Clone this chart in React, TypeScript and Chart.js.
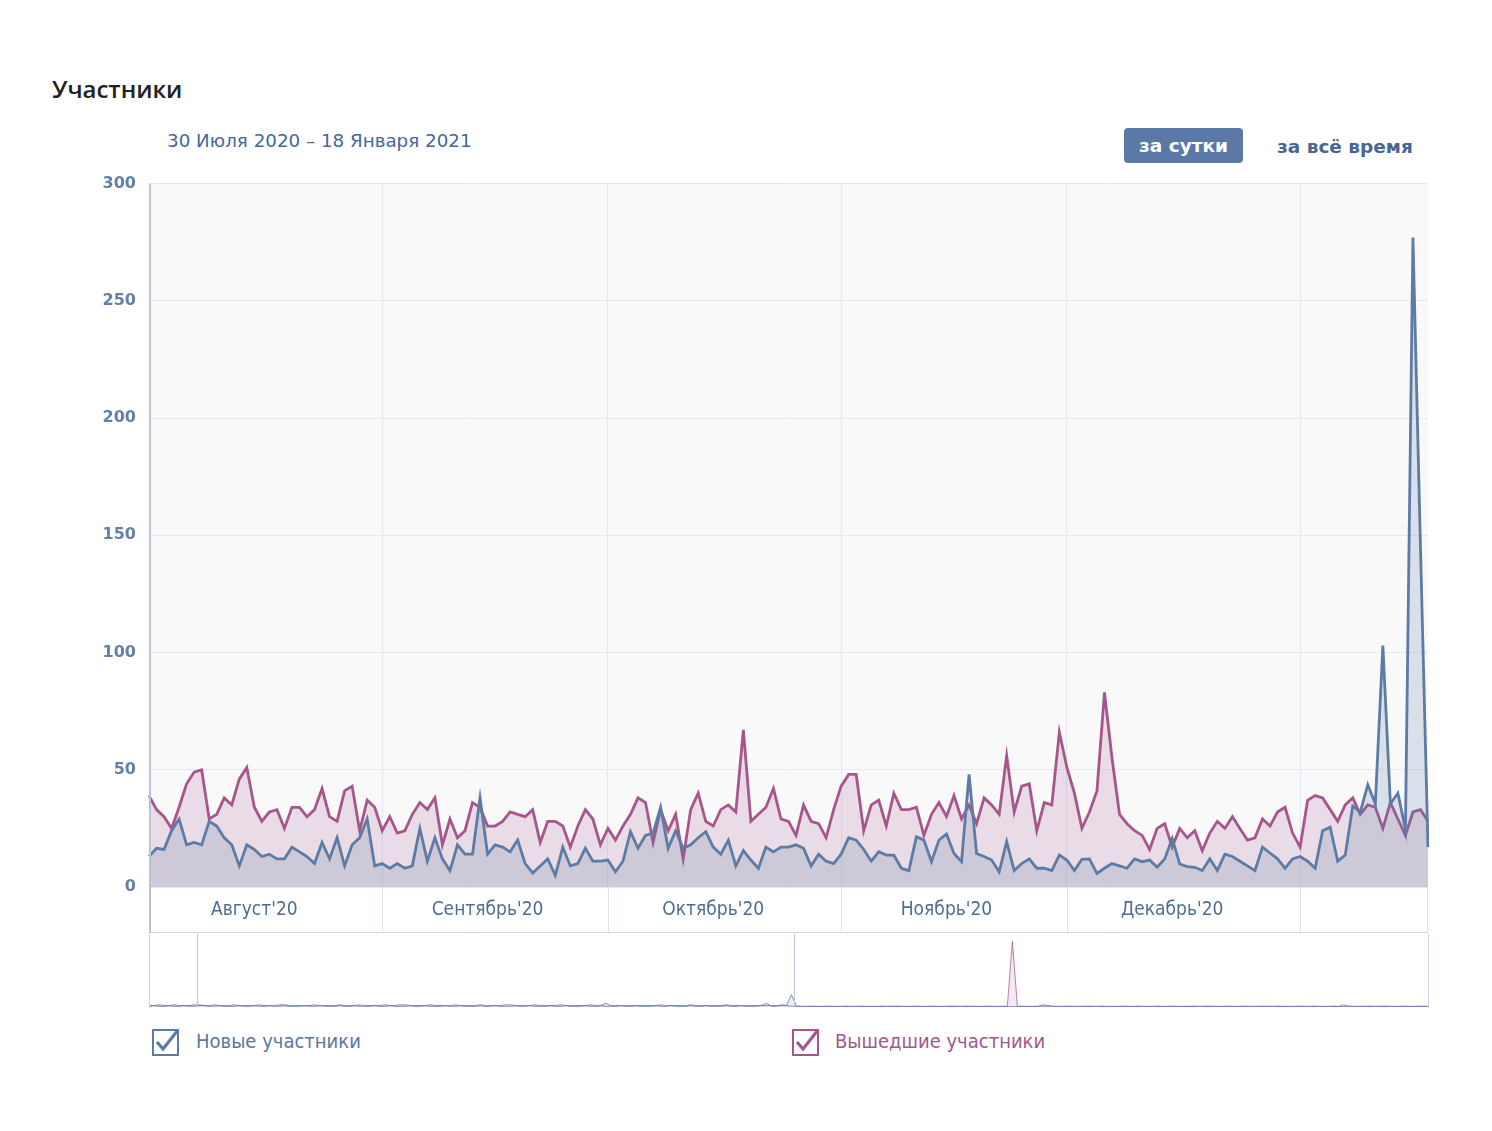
import React, { useEffect, useRef } from "react";
import { Chart, registerables } from "chart.js";

Chart.register(...registerables);

// ---- Data (daily, 1 Aug 2020 – 18 Jan 2021) ----
const newMembers: number[] = [
  13, 16.5, 16, 24, 29, 18, 19, 18, 28, 26, 21, 18, 9, 18, 16, 13, 14, 12, 12, 17, 15, 13, 10, 19, 12,
  21, 9, 18, 21, 29, 9, 10, 8, 10, 8, 9, 25, 11, 21, 12, 7, 18, 14, 14, 38, 14, 18, 17, 15, 20,
  10, 6, 9, 12, 5, 17, 9, 10, 16.5, 11, 11, 11.5, 6.5, 11, 23.6, 16.5, 22, 23, 34, 16.5, 24, 16.5, 18, 21,
  23.6, 17, 14, 20, 9, 15.5, 11.5, 8, 17, 15, 17, 17, 18, 16.5, 9, 14, 11, 10, 14, 21, 20, 16, 11, 15, 13.6,
  13.6, 8, 7, 21.4, 20, 10.8, 20, 22.6, 14.3, 10.8, 48, 14.3, 13, 11.5, 6.5, 19.3, 7, 10, 12, 8, 8, 7, 13.6, 11.5,
  7, 11.8, 12, 5.8, 8, 10, 9, 8, 12, 10.8, 11.5, 8.4, 12, 20.7, 9.8, 8.7, 8.4, 7, 12, 7, 14, 13, 11, 9, 7,
  17, 14.5, 12, 8, 12, 13, 11, 8, 24, 25.5, 11, 13.6, 34.5, 32, 43.6, 35.5, 103, 35.5, 40, 24.5, 277, 145, 17,
];

const leftMembers: number[] = [
  39, 33, 30, 25, 34, 44, 49, 50, 29, 31, 38, 35, 46, 51, 34, 28, 32, 33, 25, 34, 34, 30, 33, 42, 30,
  28, 41, 43, 24, 37, 34, 24, 30, 23, 24, 31, 36, 33, 38, 18, 29, 21, 24, 36, 34, 26, 26, 28, 32, 31,
  30, 33, 19, 28, 28, 26, 17, 26, 33, 29, 18, 25, 20, 26, 31, 38, 36, 19, 33, 24, 31, 12, 33, 40,
  28, 26, 33, 35, 32, 67, 28, 31, 34, 42, 29, 28, 22, 35, 28, 27, 21, 33, 43, 48, 48, 24, 35, 37, 26,
  40, 33, 33, 34, 22, 31, 36, 30, 39, 29, 35, 27, 38, 35, 31, 56, 32, 43, 44, 24, 36, 35, 66, 51,
  40, 25, 32, 41, 83, 55, 31, 27, 24, 22, 16, 25, 27, 17, 25, 21, 24, 15.5, 23, 28, 25, 30, 25, 20, 21,
  29, 26, 32, 34, 23, 17, 37, 39, 38, 33, 28, 35, 38, 31, 35, 34, 25, 36, 29, 22, 32, 33, 28,
];

const startDayUTC = Date.UTC(2020, 7, 1);
const days: Date[] = newMembers.map((_, i) => new Date(startDayUTC + i * 86400000));
const dayLabels: string[] = days.map(
  (d) => `${d.getUTCDate()}.${d.getUTCMonth() + 1}.${d.getUTCFullYear()}`
);

const monthLabels: string[] = ["Август'20", "Сентябрь'20", "Октябрь'20", "Ноябрь'20", "Декабрь'20"];
const yTicks: number[] = [0, 50, 100, 150, 200, 250, 300];

// navigator (overview of full history)
const navNew: number[] = [
  1, 2, 1, 1, 2, 1, 1, 2, 1, 1, 2, 2, 1, 1, 2, 1, 1, 1, 2, 1, 1, 2, 1, 1, 2, 1, 1, 2, 1, 1, 1, 2,
  1, 1, 2, 1, 1, 1, 2, 1, 1, 2, 1, 1, 1, 2, 1, 1, 2, 1, 1, 1, 2, 1, 1, 2, 1, 1, 1, 2, 1, 1, 2, 1,
  1, 1, 2, 1, 1, 2, 1, 1, 1, 2, 1, 1, 2, 1, 1, 1, 2, 1, 1, 2, 1, 1, 1, 2, 1, 1, 2, 1, 1, 1, 2, 1,
  1, 2, 1, 1, 1, 2, 1, 1, 2, 1, 1, 1, 2, 1, 1, 2, 1, 1, 1, 2, 1, 1, 2, 1, 1, 1, 2, 5, 1, 1, 3, 2,
  17, 1, 0.5, 0.5, 1, 0.5, 0.5, 1, 0.5, 0.5, 0.5, 1, 0.5, 0.5, 1, 0.5, 0.5, 0.5, 1, 0.5, 0.5, 1, 0.5, 0.5, 0.5, 1, 0.5, 0.5, 1, 0.5, 0.5, 0.5,
  1, 0.5, 0.5, 1, 0.5, 0.5, 0.5, 1, 0.5, 0.5, 1, 0.5, 0.5, 0.5, 1, 0.5, 0.5, 0.5, 3, 2, 1, 0.5, 0.5, 1, 0.5, 0.5, 0.5, 1, 0.5, 0.5, 1, 0.5,
  0.5, 0.5, 1, 0.5, 0.5, 1, 0.5, 0.5, 0.5, 1, 0.5, 0.5, 1, 0.5, 0.5, 0.5, 1, 0.5, 0.5, 1, 0.5, 0.5, 0.5, 1, 0.5, 0.5, 1, 0.5, 0.5, 0.5, 1, 0.5,
  0.5, 1, 0.5, 0.5, 0.5, 1, 0.5, 0.5, 1, 0.5, 0.5, 0.5, 1, 0.5, 0.5, 1, 0.5, 0.5, 0.5, 1, 0.5, 0.5, 1, 0.5, 0.5, 0.5, 1, 0.5, 0.5, 1, 0.5, 0.5,
];
const navLeft: number[] = [
  2, 2, 3, 2, 2, 3, 2, 2, 2, 3, 3, 2, 2, 3, 2, 2, 2, 3, 2, 2, 2, 2, 3, 2, 2, 2, 3, 3, 2, 2, 2, 2,
  2, 3, 2, 2, 2, 2, 3, 2, 2, 2, 3, 2, 2, 2, 2, 3, 2, 2, 3, 3, 2, 2, 2, 2, 3, 2, 2, 2, 2, 3, 2, 2,
  2, 2, 3, 2, 2, 2, 2, 3, 3, 2, 2, 2, 2, 3, 2, 2, 2, 2, 3, 2, 2, 2, 2, 2, 3, 2, 2, 5, 2, 2, 2, 2,
  2, 2, 2, 2, 2, 2, 3, 2, 2, 2, 2, 2, 3, 2, 2, 2, 2, 2, 2, 3, 2, 2, 2, 2, 2, 2, 2, 2, 2, 2, 2, 2,
  1, 1, 1, 1, 1, 1, 1, 1, 1, 1, 1, 1, 1, 1, 1, 1, 1, 1, 1, 1, 1, 1, 1, 1, 1, 1, 1, 1, 1, 1, 1, 1,
  1, 1, 1, 1, 1, 1, 1, 1, 1, 1, 1, 1, 90, 1, 1, 1, 1, 1, 1, 1, 1, 1, 1, 1, 1, 1, 1, 1, 1, 1, 1, 1,
  1, 1, 1, 1, 1, 1, 1, 1, 1, 1, 1, 1, 1, 1, 1, 1, 1, 1, 1, 1, 1, 1, 1, 1, 1, 1, 1, 1, 1, 1, 1, 1,
  1, 1, 1, 1, 1, 1, 1, 1, 1, 1, 1, 1, 1, 1, 3, 1, 1, 1, 1, 1, 1, 1, 1, 1, 1, 1, 1, 1, 1, 1, 1, 1,
];
const navWindow: number[] = [9.6, 128.4];

// ---- Styles ----
const BLUE = "#5d7ba5";
const PINK = "#a5568b";
const BLUE_FILL = "rgba(93,123,165,0.2)";
const PINK_FILL = "rgba(165,86,139,0.18)";
const GRID = "#e5e8ef";
const BOX = "#dfe3ea";
const LABEL_H = 46;

function MainChart() {
  const ref = useRef<HTMLCanvasElement | null>(null);
  useEffect(() => {
    if (!ref.current) return;
    const framePlugin = {
      id: "frame",
      beforeDraw(chart: any) {
        const { ctx, chartArea: a } = chart;
        ctx.save();
        ctx.fillStyle = "#f9f9fa";
        ctx.fillRect(a.left, a.top, a.right - a.left, a.bottom - a.top);
        ctx.restore();
      },
      afterDraw(chart: any) {
        const { ctx, chartArea: a, scales } = chart;
        const xs = scales.x;
        const bottom = a.bottom + LABEL_H;
        const line = (x1: number, y1: number, x2: number, y2: number) => {
          ctx.beginPath();
          ctx.moveTo(x1, y1);
          ctx.lineTo(x2, y2);
          ctx.stroke();
        };
        ctx.save();
        ctx.strokeStyle = BOX;
        ctx.lineWidth = 1;
        days.forEach((d, i) => {
          if (i > 0 && d.getUTCDate() === 1) {
            const px = Math.round(xs.getPixelForValue(i)) + 0.5;
            line(px, a.bottom, px, bottom);
          }
        });
        line(a.right - 0.5, a.bottom, a.right - 0.5, bottom);
        ctx.strokeStyle = "#d3d9e3";
        line(a.left, bottom - 0.5, a.right, bottom - 0.5);
        ctx.strokeStyle = "#b9c5d6";
        ctx.lineWidth = 2;
        line(a.left + 1, a.top, a.left + 1, bottom);
        ctx.restore();
      },
    };
    const chart = new Chart(ref.current, {
      type: "line",
      data: {
        labels: dayLabels,
        datasets: [
          {
            label: "Новые участники",
            data: newMembers,
            borderColor: BLUE,
            backgroundColor: BLUE_FILL,
            borderWidth: 2.8,
            fill: "origin",
            pointRadius: 0,
            tension: 0,
          },
          {
            label: "Вышедшие участники",
            data: leftMembers,
            borderColor: PINK,
            backgroundColor: PINK_FILL,
            borderWidth: 2.8,
            fill: "origin",
            pointRadius: 0,
            tension: 0,
          },
        ],
      },
      options: {
        responsive: false,
        animation: false,
        events: [],
        layout: { padding: { top: 4, right: 12, left: 0, bottom: 0 } },
        plugins: { legend: { display: false }, tooltip: { enabled: false } },
        scales: {
          x: {
            type: "category",
            offset: false,
            border: { display: false },
            grid: {
              drawTicks: false,
              color: (c: any) => {
                const d = days[c.index];
                return d && c.index > 0 && d.getUTCDate() === 1 ? GRID : "rgba(0,0,0,0)";
              },
            },
            ticks: {
              autoSkip: false,
              maxRotation: 0,
              padding: 12,
              color: "#4f6c94",
              font: { family: "'DejaVu Sans Condensed', 'DejaVu Sans'", size: 19 },
              callback: (_v: any, i: number) => {
                const d = days[i];
                if (!d || d.getUTCDate() !== 15) return "";
                return monthLabels[d.getUTCMonth() - 7] ?? "";
              },
            },
            afterFit: (s: any) => {
              s.height = LABEL_H;
            },
          },
          y: {
            min: 0,
            max: 300,
            border: { display: false },
            grid: { color: GRID, drawTicks: false },
            afterBuildTicks: (s: any) => {
              s.ticks = yTicks.map((v) => ({ value: v }));
            },
            ticks: {
              padding: 13,
              color: "#6480a8",
              font: { family: "'DejaVu Sans'", size: 16, weight: "bold" },
            },
            afterFit: (s: any) => {
              s.width = 59;
            },
          },
        },
      },
      plugins: [framePlugin],
    } as any);
    return () => chart.destroy();
  }, []);
  return (
    <canvas
      ref={ref}
      width={1350}
      height={772}
      style={{ position: "absolute", left: 82, top: 153, width: 1350, height: 772 }}
    />
  );
}

function Navigator() {
  const ref = useRef<HTMLCanvasElement | null>(null);
  useEffect(() => {
    if (!ref.current) return;
    const navPlugin = {
      id: "navFrame",
      afterDraw(chart: any) {
        const { ctx, width, height, scales } = chart;
        ctx.save();
        ctx.strokeStyle = "#c9d2de";
        ctx.lineWidth = 1;
        const line = (x1: number, y1: number, x2: number, y2: number) => {
          ctx.beginPath();
          ctx.moveTo(x1, y1);
          ctx.lineTo(x2, y2);
          ctx.stroke();
        };
        line(0.5, 0, 0.5, height);
        line(width - 0.5, 0, width - 0.5, height);
        ctx.strokeStyle = "#c1cad8";
        navWindow.forEach((v) => {
          const px = Math.round(scales.x.getPixelForValue(v)) + 0.5;
          line(px, 0, px, height - 1);
        });
        ctx.restore();
      },
    };
    const chart = new Chart(ref.current, {
      type: "line",
      data: {
        labels: navNew.map((_, i) => i),
        datasets: [
          {
            data: navNew.map((v, i) => ({ x: i, y: v })),
            borderColor: "rgba(93,123,165,0.8)",
            backgroundColor: "rgba(93,123,165,0.12)",
            borderWidth: 1,
            fill: "origin",
            pointRadius: 0,
          },
          {
            data: navLeft.map((v, i) => ({ x: i, y: v })),
            borderColor: "rgba(165,86,139,0.75)",
            backgroundColor: "rgba(165,86,139,0.12)",
            borderWidth: 1,
            fill: "origin",
            pointRadius: 0,
          },
        ],
      },
      options: {
        responsive: false,
        animation: false,
        events: [],
        layout: { padding: { top: 0, bottom: 1, left: 0, right: 0 } },
        plugins: { legend: { display: false }, tooltip: { enabled: false } },
        scales: {
          x: { type: "linear", min: 0, max: navNew.length - 1, display: false },
          y: { min: 0, max: 100, display: false },
        },
      },
      plugins: [navPlugin],
    } as any);
    return () => chart.destroy();
  }, []);
  return (
    <canvas
      ref={ref}
      width={1280}
      height={74}
      style={{ position: "absolute", left: 141, top: 926, width: 1280, height: 74 }}
    />
  );
}

function CheckBox({ color, left, top }: { color: string; left: number; top: number }) {
  return (
    <svg
      width={34}
      height={34}
      style={{ position: "absolute", left, top }}
      viewBox="0 0 34 34"
    >
      <rect x={2} y={6} width={25} height={25} fill="#fff" stroke={color} strokeWidth={2} />
      <polyline
        points="6,18 12,25 27,6"
        fill="none"
        stroke={color}
        strokeWidth={3.2}
        strokeLinejoin="miter"
      />
    </svg>
  );
}

export default function App() {
  const font = "'DejaVu Sans', sans-serif";
  return (
    <div style={{ position: "relative", width: 1476, height: 1115, background: "#fff" }}>
      <div
        style={{
          position: "absolute",
          left: 44,
          top: 66,
          fontFamily: "'Open Sans', sans-serif",
          fontWeight: 600,
          fontSize: 24,
          color: "#222",
          lineHeight: "30px",
        }}
      >
        Участники
      </div>
      <div
        style={{
          position: "absolute",
          left: 159,
          top: 121,
          fontFamily: font,
          fontSize: 18.3,
          color: "#45679a",
          lineHeight: "24px",
          whiteSpace: "nowrap",
        }}
      >
        30 Июля 2020 – 18 Января 2021
      </div>
      <div
        style={{
          position: "absolute",
          left: 1116,
          top: 120,
          width: 119,
          height: 35,
          background: "#5a79a6",
          borderRadius: 4,
          color: "#fff",
          fontFamily: font,
          fontWeight: "bold",
          fontSize: 18.5,
          lineHeight: "36px",
          textAlign: "center",
        }}
      >
        за сутки
      </div>
      <div
        style={{
          position: "absolute",
          left: 1269,
          top: 127,
          fontFamily: font,
          fontWeight: "bold",
          fontSize: 18.5,
          color: "#48668f",
          lineHeight: "24px",
          whiteSpace: "nowrap",
        }}
      >
        за всё время
      </div>
      <MainChart />
      <Navigator />
      <CheckBox color="#5d7ba6" left={143} top={1016} />
      <div
        style={{
          position: "absolute",
          left: 188,
          top: 1020,
          fontFamily: "'DejaVu Sans Condensed', 'DejaVu Sans'",
          fontSize: 20,
          color: "#5a77a2",
          lineHeight: "26px",
          whiteSpace: "nowrap",
        }}
      >
        Новые участники
      </div>
      <CheckBox color="#a5568b" left={783} top={1016} />
      <div
        style={{
          position: "absolute",
          left: 827,
          top: 1020,
          fontFamily: "'DejaVu Sans Condensed', 'DejaVu Sans'",
          fontSize: 20,
          color: "#a5568b",
          lineHeight: "26px",
          whiteSpace: "nowrap",
        }}
      >
        Вышедшие участники
      </div>
    </div>
  );
}
